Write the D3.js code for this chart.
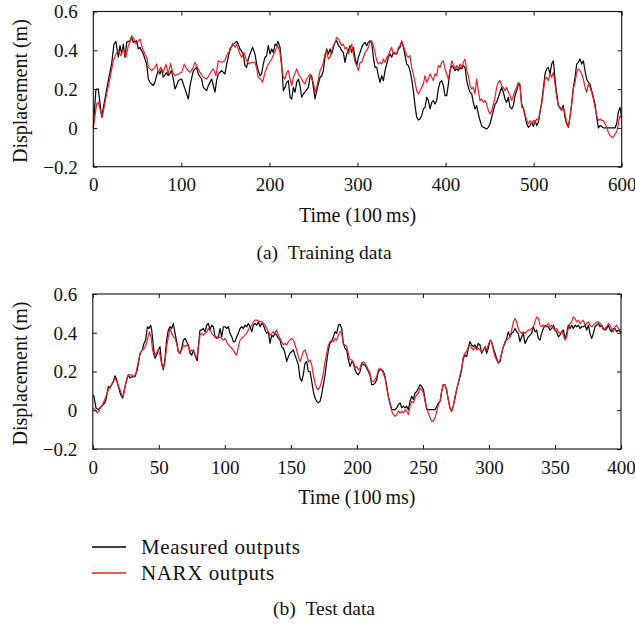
<!DOCTYPE html>
<html>
<head>
<meta charset="utf-8">
<script src="https://cdn.jsdelivr.net/npm/d3@7"></script>
<style>
  html, body { margin: 0; padding: 0; background: #fff; }
  svg { display: block; }
  text { font-family: "Liberation Serif", "Times New Roman", serif; fill: #111; }
</style>
</head>
<body>
<svg id="chart" width="635" height="629"></svg>
<script>
// ---------------- DATA ----------------
const yTickValues = [-0.2, 0, 0.2, 0.4, 0.6];
const yTickLabels = ["\u22120.2", "0", "0.2", "0.4", "0.6"];
const trainXTicks = [0, 100, 200, 300, 400, 500, 600];
const testXTicks = [0, 50, 100, 150, 200, 250, 300, 350, 400];
const seriesNames = ["Measured outputs", "NARX outputs"];
const panelCaptions = ["(a)\u2002Training data", "(b)\u2002Test data"];
const xTitle = "Time (100\u2009ms)";
const yTitle = "Displacement (m)";

// training data: [time (100 ms), displacement (m)]
const trainMeasured = [[0,0],[3,0.2],[5.7,0.2],[9.5,0.055],[17,0.244],[20.8,0.33],[23.5,0.432],[25.7,0.446],[28.4,0.364],[30.3,0.424],[32.2,0.381],[34.1,0.432],[36,0.364],[37.9,0.441],[41.6,0.449],[43.5,0.467],[45.4,0.441],[49.2,0.449],[51.1,0.407],[53,0.415],[56.8,0.381],[60.6,0.329],[62.5,0.252],[64.3,0.235],[68.1,0.218],[70,0.235],[71.9,0.269],[73.8,0.295],[75.7,0.278],[77.6,0.304],[79.5,0.261],[83.3,0.286],[85.2,0.269],[88.9,0.295],[90.8,0.252],[92.7,0.201],[94.6,0.218],[96.5,0.244],[100.3,0.252],[104.1,0.201],[107.9,0.149],[109.8,0.218],[113.6,0.295],[117.3,0.312],[119.2,0.278],[123,0.252],[124.9,0.209],[128.7,0.192],[130.6,0.218],[134.4,0.252],[138.2,0.184],[140,0.244],[141.9,0.278],[145.7,0.295],[149.5,0.278],[151.4,0.329],[153.3,0.364],[155.2,0.407],[159,0.432],[162.8,0.446],[164.6,0.432],[166.5,0.407],[170.3,0.381],[172.2,0.321],[174.1,0.312],[176,0.355],[177.9,0.381],[180.9,0.415],[183.6,0.381],[185.5,0.329],[187.4,0.295],[189.3,0.269],[191.1,0.278],[193,0.329],[194.9,0.364],[196.8,0.372],[198.7,0.424],[200.7,0.381],[202.6,0.407],[204.5,0.389],[206.4,0.432],[208.2,0.424],[209.4,0.446],[210.9,0.432],[212,0.415],[213.9,0.329],[215.8,0.192],[217.7,0.209],[219.6,0.235],[221.5,0.244],[223.4,0.158],[225.3,0.149],[227.2,0.209],[229.1,0.184],[231,0.235],[232.9,0.252],[234.7,0.218],[236.6,0.158],[238.5,0.175],[240.4,0.184],[244.2,0.209],[246.1,0.261],[248,0.269],[249.9,0.209],[251.8,0.149],[253.7,0.192],[257.5,0.261],[259.3,0.269],[261.2,0.295],[263.1,0.364],[265,0.407],[266.9,0.381],[268.8,0.407],[270.7,0.381],[272.6,0.415],[274.5,0.441],[276.4,0.449],[278.3,0.424],[280.2,0.415],[282.1,0.398],[283.9,0.389],[285.8,0.338],[287.7,0.381],[289.6,0.398],[291.5,0.424],[293.4,0.389],[295.3,0.415],[297.2,0.364],[299.1,0.321],[301,0.364],[302.9,0.389],[304.8,0.415],[306.7,0.432],[308.6,0.441],[310.4,0.424],[312.3,0.441],[314.2,0.449],[316.1,0.441],[318,0.364],[319.9,0.312],[321.8,0.312],[323.7,0.269],[325.6,0.235],[327.5,0.269],[329.4,0.244],[331.3,0.295],[333.2,0.329],[335,0.364],[336.9,0.381],[338.8,0.364],[340.7,0.389],[342.6,0.381],[344.5,0.381],[346.4,0.407],[348.3,0.415],[350.2,0.446],[352.1,0.415],[354,0.372],[355.9,0.329],[357.8,0.321],[359.6,0.295],[361.5,0.252],[363.4,0.192],[365.3,0.115],[367.2,0.055],[369.1,0.041],[371,0.046],[372.9,0.063],[374.8,0.098],[376.7,0.106],[378.6,0.158],[380.5,0.141],[382.4,0.098],[384.3,0.132],[386.1,0.141],[388,0.123],[389.9,0.141],[391.8,0.201],[393.7,0.235],[395.6,0.244],[397.5,0.218],[399.4,0.166],[401.3,0.166],[403.2,0.226],[405.1,0.295],[407,0.321],[408.8,0.312],[410.7,0.295],[412.6,0.304],[414.5,0.295],[416.4,0.312],[418.3,0.304],[420.2,0.321],[422.1,0.312],[424,0.244],[425.9,0.209],[427.8,0.184],[429.7,0.175],[431.5,0.132],[433.4,0.098],[435.3,0.115],[437.2,0.072],[439.1,0.038],[441,0.012],[442.9,0.003],[446.7,-0.005],[448.6,0.003],[450.5,0.021],[452.4,0.055],[454.3,0.089],[456.2,0.123],[458,0.132],[459.9,0.158],[461.8,0.184],[463.7,0.209],[465.6,0.184],[467.5,0.149],[469.4,0.132],[471.3,0.158],[473.2,0.106],[475.1,0.098],[477,0.115],[478.9,0.166],[480.8,0.192],[482.6,0.226],[484.5,0.218],[486.4,0.123],[488.3,0.098],[490.2,0.063],[492.1,0.021],[494,0.003],[495.9,0.012],[497.8,0.029],[499.7,0.007],[501.6,0.038],[503.5,0.012],[505.4,0.029],[507.3,0.081],[509.1,0.132],[511,0.201],[512.9,0.278],[514.8,0.304],[516.7,0.312],[518.6,0.278],[520.5,0.329],[522.4,0.346],[524.3,0.252],[526.2,0.175],[528.1,0.115],[530,0.106],[531.9,0.098],[533.7,0.115],[535.6,0.055],[537.5,0.021],[539.4,0.003],[541.3,0.055],[543.2,0.123],[545.1,0.209],[547,0.261],[548.9,0.329],[550.8,0.338],[552.7,0.355],[554.6,0.329],[556.5,0.346],[558.3,0.295],[560.2,0.252],[562.1,0.235],[564,0.226],[565.9,0.192],[567.8,0.158],[569.7,0.123],[571.6,0.055],[573.5,0],[575.4,0.012],[577.3,0.007],[579.2,0],[592.4,0],[594.3,0.021],[596.2,0.081],[598.1,0.106],[600,0.055]];

const trainNarx = [[0,0],[3.8,0.124],[5.7,0.132],[10.2,0.055],[15.1,0.175],[18.9,0.252],[22.7,0.346],[25.7,0.381],[28.4,0.398],[31,0.372],[34.1,0.407],[37.1,0.364],[39.7,0.424],[41.6,0.441],[43.5,0.475],[46.2,0.458],[48.4,0.432],[51.1,0.449],[53,0.458],[56,0.407],[58.7,0.381],[61.3,0.355],[62.5,0.312],[66.2,0.295],[70,0.312],[71.9,0.329],[73.8,0.286],[76.5,0.312],[79.5,0.286],[82.5,0.329],[85.2,0.278],[87.8,0.333],[90.1,0.286],[92.7,0.269],[96.5,0.278],[100.3,0.286],[103.3,0.329],[106,0.304],[109.8,0.286],[113.6,0.312],[115.4,0.338],[117.3,0.321],[121.1,0.286],[124.9,0.261],[128.7,0.252],[132.5,0.278],[134.4,0.295],[136.3,0.304],[139.3,0.269],[141.9,0.346],[145.7,0.338],[149.5,0.346],[151.4,0.372],[153.3,0.389],[155.2,0.398],[158.2,0.436],[160.9,0.415],[162.8,0.432],[165.8,0.389],[168.4,0.364],[171.1,0.389],[174.1,0.346],[177.1,0.329],[179.8,0.338],[183.6,0.338],[185.5,0.304],[187.4,0.261],[190,0.252],[192.3,0.235],[194.9,0.286],[198.8,0.329],[202.6,0.355],[206.4,0.398],[209.4,0.424],[212,0.389],[213.9,0.312],[215.8,0.261],[217.7,0.252],[219.6,0.286],[221.5,0.295],[223.4,0.252],[225.3,0.218],[227.2,0.261],[231,0.304],[232.9,0.278],[236.6,0.252],[238.5,0.235],[240.4,0.226],[242.3,0.252],[246.1,0.278],[248,0.252],[249.9,0.235],[251.8,0.184],[253.7,0.209],[255.6,0.252],[257.5,0.295],[259.3,0.312],[261.2,0.338],[263.1,0.381],[265,0.398],[266.9,0.355],[268.8,0.364],[270.7,0.398],[272.6,0.424],[274.5,0.441],[276.4,0.467],[278.3,0.458],[280.2,0.441],[282.1,0.424],[283.9,0.432],[285.8,0.407],[287.7,0.415],[289.6,0.381],[291.5,0.407],[293.4,0.432],[295.3,0.381],[297.2,0.338],[299.1,0.321],[301,0.295],[302.9,0.338],[304.8,0.338],[306.7,0.364],[308.6,0.389],[310.4,0.398],[312.3,0.415],[314.2,0.441],[316.1,0.449],[318,0.424],[319.9,0.389],[321.8,0.346],[323.7,0.329],[325.6,0.338],[327.5,0.329],[329.4,0.355],[331.3,0.338],[333.2,0.364],[335,0.372],[336.9,0.398],[338.8,0.415],[340.7,0.381],[342.6,0.389],[344.5,0.381],[346.4,0.415],[348.3,0.424],[350.2,0.449],[352.1,0.424],[354,0.398],[355.9,0.372],[357.8,0.364],[359.6,0.372],[361.5,0.312],[363.4,0.278],[365.3,0.235],[367.2,0.192],[369.1,0.175],[371,0.192],[372.9,0.209],[374.8,0.226],[376.7,0.269],[378.6,0.235],[380.5,0.252],[382.4,0.278],[384.3,0.261],[386.1,0.244],[388,0.278],[389.9,0.269],[391.8,0.321],[393.7,0.312],[395.6,0.338],[397.5,0.346],[399.4,0.304],[401.3,0.278],[403.2,0.252],[405.1,0.295],[407,0.346],[408.8,0.329],[410.7,0.304],[412.6,0.321],[414.5,0.304],[416.4,0.329],[418.3,0.312],[420.2,0.338],[422.1,0.355],[424,0.295],[425.9,0.269],[427.8,0.218],[429.7,0.201],[431.5,0.209],[433.4,0.175],[435.3,0.252],[437.2,0.192],[439.1,0.141],[441,0.149],[442.9,0.132],[444.8,0.141],[446.7,0.123],[448.6,0.089],[450.5,0.072],[452.4,0.089],[454.3,0.123],[456.2,0.158],[458,0.209],[459.9,0.235],[461.8,0.244],[463.7,0.218],[465.6,0.209],[467.5,0.192],[469.4,0.209],[471.3,0.184],[473.2,0.166],[475.1,0.141],[477,0.166],[478.9,0.192],[480.8,0.209],[482.6,0.235],[484.5,0.226],[486.4,0.106],[488.3,0.106],[490.2,0.072],[492.1,0.038],[494,0.021],[495.9,0.038],[497.8,0.021],[499.7,0.038],[501.6,0.029],[503.5,0.046],[505.4,0.038],[507.3,0.089],[509.1,0.123],[511,0.184],[512.9,0.252],[514.8,0.261],[516.7,0.244],[518.6,0.278],[520.5,0.261],[522.4,0.286],[524.3,0.226],[526.2,0.158],[528.1,0.115],[530,0.098],[531.9,0.089],[533.7,0.106],[535.6,0.072],[537.5,0.029],[539.4,0.007],[541.3,0.055],[543.2,0.123],[545.1,0.201],[547,0.235],[548.9,0.286],[550.8,0.304],[552.7,0.295],[554.6,0.278],[556.5,0.252],[558.3,0.209],[560.2,0.184],[562.1,0.226],[564,0.209],[565.9,0.184],[567.8,0.149],[569.7,0.106],[571.6,0.063],[573.5,0.038],[575.4,0.046],[577.3,0.038],[579.2,0.038],[581.1,0.021],[582.9,0.003],[584.8,-0.022],[586.7,-0.039],[588.6,-0.048],[590.5,-0.048],[592.4,-0.031],[594.3,-0.022],[596.2,0.021],[598.1,0.063],[600,0.046]];

// test data: [time (100 ms), displacement (m)]
const testMeasured = [[0,0.08],[0.9,0.072],[2.4,0.012],[4.2,0.003],[6,0.017],[8,0.029],[9.7,0.046],[11.8,0.123],[13,0.115],[14.3,0.132],[15.6,0.149],[16.8,0.178],[18.1,0.157],[19.3,0.123],[21.1,0.08],[22.6,0.063],[23.9,0.106],[25.7,0.157],[26.9,0.183],[28.2,0.166],[30.2,0.174],[32,0.174],[33.7,0.209],[35.8,0.294],[37.5,0.311],[38.8,0.345],[40,0.362],[41.3,0.431],[42.6,0.422],[43.8,0.439],[44.6,0.414],[45.9,0.328],[47.1,0.268],[48.4,0.285],[49.6,0.311],[50.9,0.328],[52.2,0.243],[53.4,0.209],[54.7,0.268],[55.9,0.362],[57.2,0.414],[58.5,0.431],[59.7,0.422],[61,0.448],[62.3,0.397],[63.5,0.354],[64.8,0.303],[66.1,0.294],[67.3,0.32],[68.6,0.362],[69.9,0.371],[71.1,0.354],[72.4,0.337],[73.6,0.294],[74.9,0.285],[76.2,0.311],[77.4,0.285],[78.7,0.26],[79.2,0.256],[79.9,0.328],[81.2,0.414],[82.5,0.414],[83.7,0.422],[85,0.405],[86.3,0.439],[87.5,0.448],[88.8,0.414],[90,0.439],[91.3,0.431],[92.6,0.379],[93.8,0.371],[95.1,0.379],[96.4,0.422],[97.6,0.379],[98.9,0.431],[100.2,0.431],[101.4,0.422],[102.7,0.431],[103.9,0.397],[105.2,0.379],[106.5,0.354],[107.7,0.354],[109,0.379],[110.2,0.397],[111.5,0.422],[112.8,0.431],[114,0.422],[115.3,0.439],[116.6,0.431],[117.8,0.448],[119.1,0.431],[120.4,0.405],[121.6,0.439],[122.9,0.448],[124.1,0.439],[125.4,0.456],[126.7,0.431],[127.9,0.448],[129.2,0.439],[130.5,0.414],[131.7,0.397],[132.9,0.405],[134.2,0.345],[135.5,0.388],[136.7,0.379],[138,0.397],[139.2,0.388],[140.5,0.371],[141.8,0.362],[143,0.328],[144.3,0.32],[145.6,0.294],[146.8,0.251],[148.1,0.277],[149.3,0.294],[150.6,0.303],[151.9,0.311],[153.1,0.285],[154.4,0.26],[155.7,0.234],[156.9,0.166],[158.2,0.149],[159.4,0.183],[160.7,0.243],[162,0.251],[163.2,0.2],[164.5,0.2],[165.8,0.149],[167,0.097],[168.3,0.063],[169.5,0.046],[170.8,0.038],[172.1,0.046],[173.3,0.08],[174.6,0.132],[175.9,0.183],[177.1,0.251],[178.4,0.311],[179.6,0.345],[180.9,0.354],[182.2,0.379],[183.4,0.405],[184.7,0.397],[186,0.439],[187.2,0.444],[188.5,0.422],[189.7,0.345],[191,0.32],[192.3,0.311],[193.5,0.26],[194.8,0.226],[196.1,0.251],[197.3,0.243],[198.6,0.209],[199.8,0.191],[201.1,0.183],[202.4,0.2],[203.6,0.243],[204.9,0.234],[206.2,0.234],[207.4,0.217],[208.7,0.2],[209.9,0.183],[211.2,0.132],[212.5,0.132],[213.7,0.14],[215,0.157],[216.3,0.2],[217.5,0.209],[218.8,0.209],[220,0.2],[221.3,0.174],[222.6,0.123],[223.8,0.072],[225.1,0.038],[226.4,0.003],[228.9,0.003],[230.1,0.012],[231.4,0.029],[232.7,0.038],[233.9,0.012],[235.2,0.021],[236.5,0.012],[237.7,0.021],[239,0.003],[240.2,0.046],[241.5,0.072],[242.8,0.055],[244,0.089],[245.3,0.097],[246.6,0.115],[247.8,0.132],[249.1,0.123],[250.4,0.106],[251.6,0.055],[252.9,0.003],[259.2,0.003],[260.5,0.021],[261.7,0.038],[263,0.046],[264.2,0.097],[265.4,0.132],[266.7,0.132],[267.9,0.106],[269.2,0.055],[270.5,0.012],[271.7,-0.005],[273,0.021],[274.3,0.063],[275.5,0.106],[276.8,0.14],[278.1,0.174],[279.3,0.209],[280.6,0.268],[281.8,0.285],[283.1,0.277],[284.4,0.32],[285.6,0.354],[286.9,0.337],[288.2,0.328],[289.4,0.337],[290.7,0.32],[291.9,0.345],[293.2,0.337],[294.5,0.294],[295.7,0.311],[297,0.328],[298.3,0.294],[299.5,0.32],[300.8,0.362],[302,0.354],[303.3,0.32],[304.6,0.294],[305.8,0.268],[307.1,0.243],[308.4,0.251],[309.6,0.294],[310.9,0.328],[312.1,0.345],[313.4,0.371],[314.7,0.405],[315.9,0.379],[317.2,0.397],[318.5,0.405],[319.7,0.422],[321,0.405],[322.2,0.397],[323.5,0.354],[324.8,0.379],[326,0.397],[327.3,0.345],[328.6,0.362],[329.8,0.379],[331.1,0.388],[332.3,0.397],[333.6,0.431],[334.9,0.405],[336.1,0.414],[337.4,0.371],[338.7,0.362],[339.9,0.397],[341.2,0.422],[342.5,0.439],[343.7,0.431],[345,0.431],[346.2,0.414],[347.5,0.422],[348.8,0.439],[350,0.414],[351.3,0.405],[352.6,0.379],[353.8,0.388],[355.1,0.405],[356.4,0.414],[357.6,0.371],[358.9,0.397],[360.1,0.439],[361.4,0.422],[362.7,0.439],[363.9,0.422],[365.2,0.439],[366.4,0.431],[367.7,0.439],[369,0.422],[370.2,0.431],[371.5,0.431],[372.8,0.439],[374,0.414],[375.3,0.439],[376.5,0.397],[377.8,0.371],[379.1,0.397],[380.3,0.431],[381.6,0.439],[382.9,0.448],[384.1,0.431],[385.4,0.439],[386.6,0.422],[387.9,0.414],[389.2,0.422],[390.4,0.439],[391.7,0.414],[393,0.405],[394.2,0.422],[395.5,0.422],[396.7,0.405],[398,0.414],[399.3,0.405],[400,0.397]];

const testNarx = [[0,0.012],[1.7,0.003],[3.4,-0.014],[5,0.003],[6.7,0.021],[8.5,0.046],[10,0.072],[11.8,0.106],[13.5,0.123],[15.6,0.149],[16.8,0.166],[18.1,0.149],[20.1,0.115],[21.9,0.08],[23.1,0.072],[24.4,0.123],[26.2,0.174],[27.7,0.183],[29.4,0.183],[31.2,0.174],[32.7,0.191],[34.5,0.251],[35.8,0.294],[37.5,0.311],[39,0.32],[40.3,0.337],[41.6,0.371],[42.8,0.405],[44.1,0.379],[45.3,0.311],[46.6,0.277],[47.9,0.294],[49.6,0.311],[50.9,0.285],[52.2,0.234],[53.4,0.217],[54.7,0.251],[55.9,0.328],[57.2,0.379],[58.5,0.422],[59.7,0.397],[61,0.379],[62.3,0.371],[63.5,0.345],[64.8,0.303],[66.1,0.294],[67.3,0.311],[68.6,0.337],[69.9,0.328],[71.1,0.337],[72.4,0.328],[73.6,0.303],[74.9,0.311],[76.2,0.303],[77.4,0.285],[78.7,0.268],[79.9,0.32],[81.2,0.388],[82.5,0.397],[83.7,0.388],[85,0.397],[86.3,0.405],[87.5,0.422],[88.8,0.414],[90,0.397],[91.3,0.388],[92.6,0.379],[93.8,0.379],[95.1,0.371],[96.4,0.379],[97.6,0.371],[98.9,0.362],[100.2,0.371],[101.4,0.354],[102.7,0.337],[103.9,0.328],[105.2,0.32],[106.5,0.311],[107.7,0.294],[109,0.285],[110.2,0.328],[111.5,0.362],[112.8,0.371],[114,0.379],[115.3,0.388],[116.6,0.397],[117.8,0.414],[119.1,0.431],[120.4,0.439],[121.6,0.456],[122.9,0.465],[124.1,0.465],[125.4,0.462],[126.7,0.456],[127.9,0.456],[129.2,0.448],[130.5,0.439],[131.7,0.422],[132.9,0.405],[134.2,0.388],[135.5,0.397],[136.7,0.405],[138,0.397],[139.2,0.414],[140.5,0.388],[141.8,0.371],[143,0.354],[144.3,0.337],[145.6,0.345],[146.8,0.337],[148.1,0.354],[149.3,0.362],[150.6,0.371],[151.9,0.362],[153.1,0.337],[154.4,0.311],[155.7,0.277],[156.9,0.251],[158.2,0.277],[159.4,0.303],[160.7,0.311],[162,0.285],[163.2,0.251],[164.5,0.26],[165.8,0.234],[167,0.183],[168.3,0.14],[169.5,0.115],[170.8,0.106],[172.1,0.123],[173.3,0.149],[174.6,0.191],[175.9,0.251],[177.1,0.294],[178.4,0.337],[179.6,0.354],[180.9,0.362],[182.2,0.354],[183.4,0.371],[184.7,0.362],[186,0.388],[187.2,0.405],[188.5,0.397],[189.7,0.345],[191,0.337],[192.3,0.328],[193.5,0.294],[194.8,0.26],[196.1,0.26],[197.3,0.251],[198.6,0.217],[199.8,0.226],[201.1,0.209],[202.4,0.217],[203.6,0.243],[204.9,0.251],[206.2,0.243],[207.4,0.226],[208.7,0.209],[209.9,0.191],[211.2,0.149],[212.5,0.149],[213.7,0.157],[215,0.174],[216.3,0.209],[217.5,0.217],[218.8,0.209],[220,0.191],[221.3,0.166],[222.6,0.115],[223.8,0.072],[225.1,0.029],[226.4,-0.005],[227.6,-0.022],[228.9,-0.031],[230.1,-0.022],[231.4,-0.005],[232.7,-0.014],[233.9,-0.005],[235.2,-0.014],[236.5,0.003],[237.7,-0.005],[239,-0.022],[240.2,0.021],[241.5,0.046],[242.8,0.038],[244,0.063],[245.3,0.08],[246.6,0.089],[247.8,0.115],[249.1,0.106],[250.4,0.089],[251.6,0.046],[252.9,0.012],[254.1,-0.014],[255.4,-0.039],[256.7,-0.056],[257.9,-0.056],[259.2,-0.039],[260.5,-0.005],[261.7,0.029],[263,0.046],[264.2,0.097],[265.4,0.132],[266.7,0.132],[267.9,0.106],[269.2,0.055],[270.5,0.012],[271.7,-0.005],[273,0.021],[274.3,0.072],[275.5,0.106],[276.8,0.14],[278.1,0.183],[279.3,0.217],[280.6,0.277],[281.8,0.294],[283.1,0.303],[284.4,0.328],[285.6,0.337],[286.9,0.32],[288.2,0.311],[289.4,0.328],[290.7,0.311],[291.9,0.32],[293.2,0.311],[294.5,0.303],[295.7,0.311],[297,0.328],[298.3,0.311],[299.5,0.337],[300.8,0.362],[302,0.354],[303.3,0.311],[304.6,0.277],[305.8,0.26],[307.1,0.243],[308.4,0.26],[309.6,0.294],[310.9,0.328],[312.1,0.354],[313.4,0.362],[314.7,0.371],[315.9,0.379],[317.2,0.414],[318.5,0.456],[319.7,0.474],[321,0.456],[322.2,0.422],[323.5,0.405],[324.8,0.397],[326,0.405],[327.3,0.397],[328.6,0.405],[329.8,0.414],[331.1,0.414],[332.3,0.422],[333.6,0.431],[334.9,0.456],[336.1,0.482],[337.4,0.474],[338.7,0.439],[339.9,0.431],[341.2,0.439],[342.5,0.431],[343.7,0.439],[345,0.448],[346.2,0.431],[347.5,0.439],[348.8,0.422],[350,0.414],[351.3,0.422],[352.6,0.405],[353.8,0.397],[355.1,0.405],[356.4,0.388],[357.6,0.362],[358.9,0.379],[360.1,0.422],[361.4,0.448],[362.7,0.456],[363.9,0.482],[365.2,0.474],[366.4,0.456],[367.7,0.465],[369,0.448],[370.2,0.456],[371.5,0.465],[372.8,0.439],[374,0.448],[375.3,0.456],[376.5,0.439],[377.8,0.431],[379.1,0.439],[380.3,0.448],[381.6,0.456],[382.9,0.456],[384.1,0.448],[385.4,0.439],[386.6,0.414],[387.9,0.422],[389.2,0.431],[390.4,0.448],[391.7,0.439],[393,0.414],[394.2,0.405],[395.5,0.431],[396.7,0.439],[398,0.422],[399.3,0.414],[400,0.397]];

// ---------------- DRAWING ----------------
const COLORS = ["#000000", "#e8202a"];
const svg = d3.select("#chart");

const panels = [
  { left: 93.3, right: 621.7, top: 11.5, bottom: 166.7, xMax: 600, xTicks: trainXTicks,
    series: [trainMeasured, trainNarx], caption: panelCaptions[0], captionY: 259 },
  { left: 92.8, right: 621, top: 294, bottom: 449, xMax: 400, xTicks: testXTicks,
    series: [testMeasured, testNarx], caption: panelCaptions[1], captionY: 615 }
];

panels.forEach(p => {
  const x = d3.scaleLinear().domain([0, p.xMax]).range([p.left, p.right]);
  const y = d3.scaleLinear().domain([-0.2, 0.6]).range([p.bottom, p.top]);
  const g = svg.append("g");

  // data lines
  const line = d3.line().x(d => x(d[0])).y(d => y(d[1]));
  p.series.forEach((s, i) => {
    g.append("path").datum(s)
      .attr("d", line)
      .attr("fill", "none")
      .attr("stroke", COLORS[i])
      .attr("stroke-width", 1.2)
      .attr("stroke-linejoin", "round");
  });

  // axes with inward ticks (no domain lines, frame drawn separately)
  const tick = 4;
  const bottomAxis = d3.axisBottom(x).tickValues(p.xTicks).tickSize(-tick).tickPadding(24 - 19 + tick).tickFormat(d3.format("d"));
  const topAxis = d3.axisTop(x).tickValues(p.xTicks).tickSize(-tick).tickFormat("");
  const leftAxis = d3.axisLeft(y).tickValues(yTickValues).tickSize(-tick).tickPadding(11.5 + tick)
      .tickFormat((d, i) => yTickLabels[i]);
  const rightAxis = d3.axisRight(y).tickValues(yTickValues).tickSize(-tick).tickFormat("");

  const axB = g.append("g").attr("transform", `translate(0,${p.bottom})`).call(bottomAxis);
  const axT = g.append("g").attr("transform", `translate(0,${p.top})`).call(topAxis);
  const axL = g.append("g").attr("transform", `translate(${p.left},0)`).call(leftAxis);
  const axR = g.append("g").attr("transform", `translate(${p.right},0)`).call(rightAxis);
  [axB, axT, axL, axR].forEach(a => {
    a.select(".domain").remove();
    a.selectAll(".tick line").attr("stroke", "#111").attr("stroke-width", 1);
    a.selectAll("text").attr("font-family", "Liberation Serif, serif").attr("font-size", 19).attr("fill", "#111");
  });
  axB.selectAll(".tick text").attr("dy", null).attr("y", 24.5).attr("dominant-baseline", "auto");
  axL.selectAll(".tick text").attr("dy", "0.34em");

  // frame
  g.append("rect")
    .attr("x", p.left).attr("y", p.top)
    .attr("width", p.right - p.left).attr("height", p.bottom - p.top)
    .attr("fill", "none").attr("stroke", "#111").attr("stroke-width", 1.1);

  // axis titles
  g.append("text")
    .attr("x", (p.left + p.right) / 2).attr("y", p.bottom + 55)
    .attr("text-anchor", "middle").attr("font-size", 20)
    .text(xTitle);
  g.append("text")
    .attr("transform", `translate(27,${(p.top + p.bottom) / 2 + 2}) rotate(-90)`)
    .attr("text-anchor", "middle").attr("font-size", 20)
    .text(yTitle);

  // caption
  g.append("text")
    .attr("x", 324).attr("y", p.captionY)
    .attr("text-anchor", "middle").attr("font-size", 19.5)
    .text(p.caption);
});

// legend
const legend = svg.append("g");
const legendY = [547, 573];
seriesNames.forEach((name, i) => {
  legend.append("line")
    .attr("x1", 92).attr("x2", 126)
    .attr("y1", legendY[i]).attr("y2", legendY[i])
    .attr("stroke", COLORS[i]).attr("stroke-width", 1.3);
  legend.append("text")
    .attr("x", 141).attr("y", legendY[i] + 6.5)
    .attr("font-size", 21).attr("letter-spacing", 0.6)
    .text(name);
});
</script>
</body>
</html>
